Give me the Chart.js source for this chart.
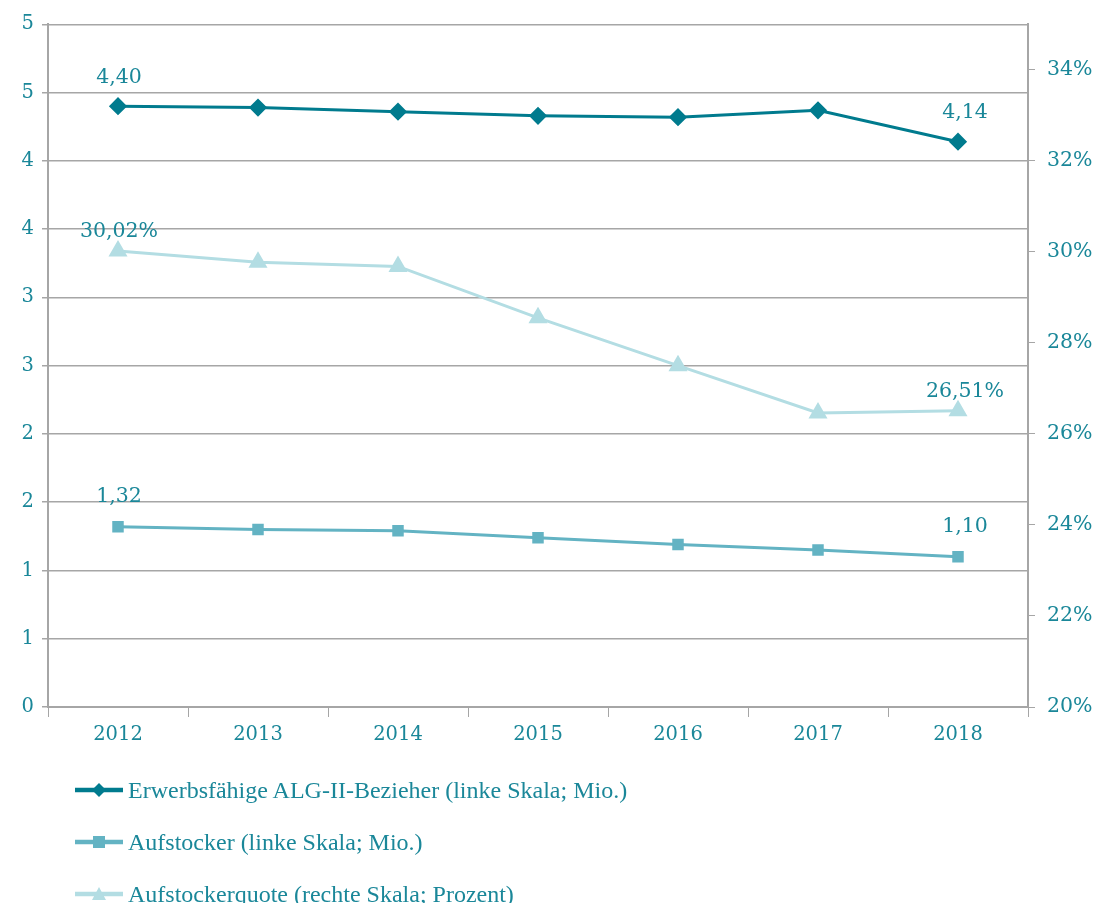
<!DOCTYPE html>
<html lang="de">
<head>
    <meta charset="UTF-8">
    <title>ALG-II-Bezieher und Aufstocker</title>
    <script src="https://cdn.jsdelivr.net/npm/chart.js"></script>
    <style>
        body { margin: 0; background: #fff; }
        #wrap { position: relative; width: 1096px; height: 760px; }
        #legend { margin: 0; padding: 0 0 0 75px; list-style: none; }
        #legend li { height: 52px; display: flex; align-items: center; font-family: "Liberation Serif", serif; font-size: 24px; color: #1a8799; }
        #legend li:first-child { margin-top: 4px; }
        #legend canvas { margin-right: 3px; }
    </style>
</head>
<body>
    <div id="wrap"><canvas id="chart" width="1096" height="760"></canvas></div>
    <ul id="legend"></ul>

    <script>
        const years = ['2012', '2013', '2014', '2015', '2016', '2017', '2018'];
        const alg2Bezieher = [4.40, 4.39, 4.36, 4.33, 4.32, 4.37, 4.14];
        const aufstocker = [1.32, 1.30, 1.29, 1.24, 1.19, 1.15, 1.10];
        const aufstockerquote = [30.02, 29.77, 29.68, 28.55, 27.50, 26.46, 26.51];
        const rightTicks = [20, 22, 24, 26, 28, 30, 32, 34];

        const textColor = '#1a8799';
        const gridColor = '#a6a6a6';
        const numFont = { family: 'DejaVu Serif', size: 19.5 };

        // value labels only at first and last year
        const valueLabels = {
            id: 'valueLabels',
            afterDatasetsDraw(chart) {
                const ctx = chart.ctx;
                const offsets = [29, 30, 19];
                ctx.save();
                ctx.fillStyle = textColor;
                ctx.font = '20.5px "DejaVu Serif"';
                ctx.textAlign = 'center';
                ctx.textBaseline = 'middle';
                chart.data.datasets.forEach((ds, i) => {
                    const meta = chart.getDatasetMeta(i);
                    [0, ds.data.length - 1].forEach(j => {
                        const pt = meta.data[j];
                        let txt = ds.data[j].toFixed(2).replace('.', ',');
                        if (ds.yAxisID === 'yRight') txt += '%';
                        const dx = j === 0 ? 1 : 7;
                        ctx.fillText(txt, pt.x + dx, pt.y - offsets[i]);
                    });
                });
                ctx.restore();
            }
        };

        const ctx = document.getElementById('chart').getContext('2d');
        const chart = new Chart(ctx, {
            type: 'line',
            data: {
                labels: years,
                datasets: [
                    {
                        label: 'Erwerbsfähige ALG-II-Bezieher (linke Skala; Mio.)',
                        data: alg2Bezieher,
                        borderColor: '#007b8e',
                        backgroundColor: '#007b8e',
                        borderWidth: 3,
                        pointStyle: 'rectRot',
                        pointRadius: 7,
                        yAxisID: 'yLeft'
                    },
                    {
                        label: 'Aufstocker (linke Skala; Mio.)',
                        data: aufstocker,
                        borderColor: '#63b3c3',
                        backgroundColor: '#63b3c3',
                        borderWidth: 3,
                        pointStyle: 'rect',
                        pointRadius: 6,
                        yAxisID: 'yLeft'
                    },
                    {
                        label: 'Aufstockerquote (rechte Skala; Prozent)',
                        data: aufstockerquote,
                        borderColor: '#b3dde3',
                        backgroundColor: '#b3dde3',
                        borderWidth: 3,
                        pointStyle: 'triangle',
                        pointRadius: 8,
                        yAxisID: 'yRight'
                    }
                ]
            },
            options: {
                responsive: false,
                animation: false,
                layout: { padding: { top: 21, left: 0, right: 0, bottom: 0 } },
                plugins: {
                    legend: { display: false },
                    tooltip: { enabled: false }
                },
                scales: {
                    x: {
                        offset: true,
                        grid: {
                            offset: true,
                            drawOnChartArea: false,
                            color: gridColor,
                            tickLength: 10
                        },
                        border: { color: gridColor, width: 2 },
                        ticks: { color: textColor, font: numFont, padding: 6, maxRotation: 0 },
                        afterFit: s => { s.height = 53; }
                    },
                    yLeft: {
                        position: 'left',
                        min: 0,
                        max: 5,
                        grid: { color: gridColor, lineWidth: 1.5, tickLength: 6 },
                        border: { color: gridColor, width: 2 },
                        ticks: {
                            stepSize: 0.5,
                            color: textColor,
                            font: numFont,
                            padding: 8,
                            callback: v => v.toFixed(0)
                        },
                        afterFit: s => { s.width = 48; }
                    },
                    yRight: {
                        position: 'right',
                        min: 20,
                        max: 35,
                        grid: { drawOnChartArea: false, color: gridColor, tickLength: 7 },
                        border: { color: gridColor, width: 2 },
                        afterBuildTicks: s => { s.ticks = rightTicks.map(v => ({ value: v })); },
                        ticks: {
                            color: textColor,
                            font: { family: 'DejaVu Serif', size: 20.5 },
                            padding: 12,
                            callback: v => v + '%'
                        },
                        afterFit: s => { s.width = 68; }
                    }
                }
            },
            plugins: [valueLabels]
        });

        // legend with line + marker icons
        const legend = document.getElementById('legend');
        chart.data.datasets.forEach(ds => {
            const li = document.createElement('li');
            const icon = document.createElement('canvas');
            icon.width = 50;
            icon.height = 20;
            const c = icon.getContext('2d');
            c.strokeStyle = ds.borderColor;
            c.fillStyle = ds.backgroundColor;
            c.lineWidth = 4.5;
            c.beginPath();
            c.moveTo(0, 10);
            c.lineTo(48, 10);
            c.stroke();
            c.beginPath();
            if (ds.pointStyle === 'rectRot') {
                c.moveTo(24, 3); c.lineTo(31, 10); c.lineTo(24, 17); c.lineTo(17, 10);
            } else if (ds.pointStyle === 'rect') {
                c.rect(18, 4, 12, 12);
            } else {
                c.moveTo(24, 3); c.lineTo(31, 16); c.lineTo(17, 16);
            }
            c.closePath();
            c.fill();
            li.appendChild(icon);
            li.appendChild(document.createTextNode(ds.label));
            legend.appendChild(li);
        });
    </script>
</body>
</html>
